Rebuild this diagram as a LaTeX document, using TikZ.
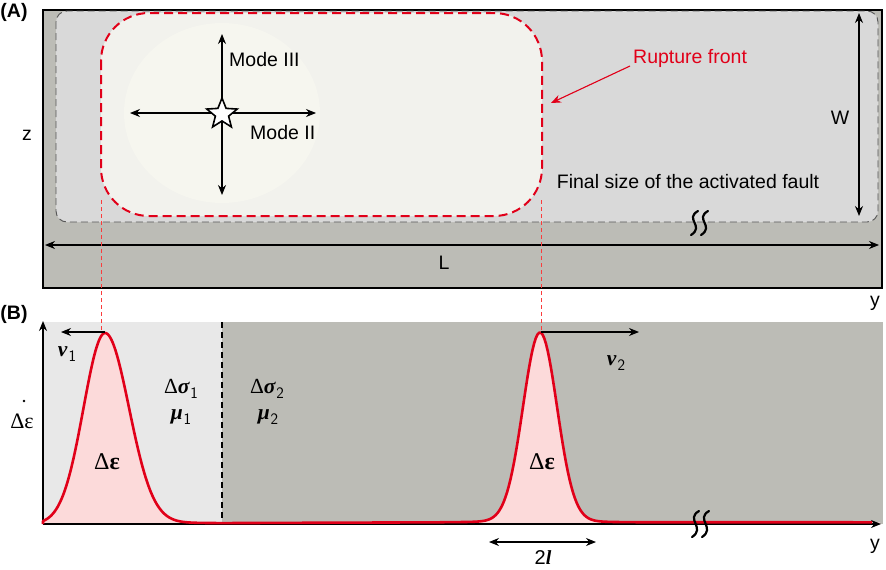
\documentclass[tikz,border=0pt]{standalone}
\usepackage{fontspec}
\usepackage{amsmath}
\setmainfont{Liberation Sans}
\newfontfamily\serifg{Liberation Serif}
\usetikzlibrary{arrows.meta,shapes.geometric}
\definecolor{darkg}{RGB}{188,188,182}
\definecolor{lightg}{RGB}{217,217,217}
\definecolor{paleg}{RGB}{242,242,237}
\definecolor{glowc}{RGB}{246,246,239}
\definecolor{lgb}{RGB}{232,232,232}
\definecolor{pinkf}{RGB}{252,218,218}
\definecolor{redl}{RGB}{225,0,25}
\definecolor{guider}{RGB}{250,60,60}
\definecolor{dashg}{RGB}{85,85,85}
\newcommand{\subsf}[1]{\kern1pt\raisebox{-4.5pt}{\fontsize{16}{18}\selectfont\sffamily\mdseries\upshape #1}}
\begin{document}
\begin{tikzpicture}[x=1pt,y=-1pt,
  font=\fontsize{19.5}{22}\selectfont,
  arr/.style={-{Stealth[length=10pt,width=8pt]}, line width=1.1pt},
  darr/.style={{Stealth[length=10pt,width=8pt]}-{Stealth[length=10pt,width=8pt]}, line width=1.1pt},
  lbl/.style={inner sep=0pt},
  gk/.style={inner sep=0pt, font=\fontsize{21.5}{24}\selectfont\serifg},
  redcurve/.style={draw=redl, line width=2.6pt, line join=round},
  squig/.style={line width=2.2pt, line cap=round},
  guide/.style={draw=guider, line width=1pt, dash pattern=on 4pt off 3pt}]
\useasboundingbox (0,0) rectangle (886,570);
% ---------------- panel A ----------------
\draw[fill=darkg, line width=1.5pt] (43,10) rectangle (882,288);
\draw[fill=lightg, draw=dashg, line width=0.9pt, dash pattern=on 7pt off 4pt, rounded corners=11pt] (56,11) rectangle (878,222);
\fill[paleg, rounded corners=48pt] (101,13) rectangle (542,216);
\fill[glowc] (222,113) ellipse [x radius=98, y radius=90];
\draw[redl, line width=2pt, dash pattern=on 9pt off 5pt, rounded corners=48pt] (101,13) rectangle (542,216);
% mode arrows and star
\coordinate (up) at (222,34);
\coordinate (dn) at (222,195);
\coordinate (lf) at (130,113);
\coordinate (rt) at (316,113);
\draw[arr] (222,113) -- (up);
\draw[arr] (222,113) -- (dn);
\draw[arr] (222,113) -- (lf);
\draw[arr] (222,113) -- (rt);
\node[star, star points=5, star point ratio=2.3, minimum size=32pt, inner sep=0pt, draw, fill=white, line width=1.6pt] (hypo) at (222,114) {};
\node[lbl, anchor=west] (m3) at (229,60) {Mode III};
\node[lbl, anchor=west] (m2) at (250,133) {Mode II};
\node[lbl] (zl) at (27,135) {z};
\node[lbl] (pa) at (14,12) {\bfseries (A)};
% rupture front
\node[lbl, text=redl, anchor=west] (rf) at (633,58) {Rupture front};
\coordinate (rfs) at (630,66);
\coordinate (rfe) at (551,103);
\draw[-{Stealth[length=10pt,width=8pt]}, draw=redl, fill=redl, line width=1.1pt] (rfs) -- (rfe);
\node[lbl] (fs) at (688,182) {Final size of the activated fault};
% W
\coordinate (wt) at (859,13);
\coordinate (wb) at (859,216);
\draw[darr] (wt) -- (wb);
\node[lbl] (wl) at (840,118) {W};
% L
\coordinate (ll) at (45,245);
\coordinate (lr) at (879,245);
\draw[darr] (ll) -- (lr);
\node[lbl] (Ll) at (444,263) {L};
\draw[squig] (698,211) .. controls (684,219) and (705,226) .. (691,235);
\draw[squig] (708,211) .. controls (694,219) and (715,226) .. (701,235);
\node[lbl] (ya) at (875,303) {y};
% ---------------- panel B ----------------
\node[lbl] (pb) at (14,314) {\bfseries (B)};
\fill[lgb] (43,322) rectangle (222,524);
\fill[darkg] (222,322) rectangle (883,524);
\draw[line width=1.2pt, dash pattern=on 6pt off 4pt] (222,322) -- (222,524);
% guides
\draw[guide] (101,200) -- (101,333);
\draw[guide] (541,200) -- (541,334);
% curve fill
\fill[pinkf] (43,524)
  -- plot[domain=43:105, samples=60] (\x,{524-189*exp(-0.5*((\x-105)/21.5)^2)-2})
  -- plot[domain=105:222, samples=90] (\x,{524-189*exp(-0.5*((\x-105)/24)^2)-2*exp(-(\x-105)/150)})
  -- (440,522.3)
  -- plot[domain=440:640, samples=120] (\x,{522.3-188*exp(-0.5*((\x-540)/17)^2)-1.8*exp(-0.5*((\x-540)/40)^2)})
  -- (880,522.3) -- (880,524) -- cycle;
% axes
\coordinate (org) at (43,524);
\coordinate (ytop) at (43,321);
\coordinate (xend) at (881,524);
\draw[arr, line width=1.2pt] (org) -- (ytop);
\draw[arr, line width=1.2pt] (org) -- (xend);
% red curve
\draw[redcurve] (43,524)
  -- plot[domain=43:105, samples=60] (\x,{524-189*exp(-0.5*((\x-105)/21.5)^2)-2*((\x-43)/62)})
  -- plot[domain=105:222, samples=90] (\x,{524-189*exp(-0.5*((\x-105)/24)^2)-2*exp(-(\x-105)/150)})
  -- (440,522.3)
  -- plot[domain=440:640, samples=120] (\x,{522.3-188*exp(-0.5*((\x-540)/17)^2)-1.8*exp(-0.5*((\x-540)/40)^2)})
  -- (872,522.3);
\draw[squig] (699,511) .. controls (685,519) and (706,528) .. (692,537);
\draw[squig] (709,511) .. controls (695,519) and (716,528) .. (702,537);
% velocity arrows
\coordinate (p1) at (105,332);
\coordinate (v1e) at (61,332);
\coordinate (p2) at (541,332);
\coordinate (v2e) at (639,332);
\draw[arr] (p1) -- (v1e);
\draw[arr] (p2) -- (v2e);
\node[gk] (v1) at (67,354) {\bfseries\itshape v\subsf{1}};
\node[gk] (v2) at (616,363) {\bfseries\itshape v\subsf{2}};
% labels
\node[gk, font=\fontsize{22}{25}\selectfont\serifg] (de) at (22,421) {Δε};
\fill (24,401) circle (1.3);
\node[gk] (s1) at (181,389) {Δ{\bfseries\itshape σ}\subsf{1}};
\node[gk] (u1) at (181,417) {{\bfseries\itshape μ}\subsf{1}};
\node[gk] (s2) at (267,389) {Δ{\bfseries\itshape σ}\subsf{2}};
\node[gk] (u2) at (268,417) {{\bfseries\itshape μ}\subsf{2}};
\node[gk, font=\fontsize{24}{27}\selectfont\serifg] (e1) at (107,462) {Δ{\bfseries ε}};
\node[gk, font=\fontsize{24}{27}\selectfont\serifg] (e2) at (542,462) {Δ{\bfseries ε}};
% 2l
\coordinate (la) at (489,542);
\coordinate (lb) at (596,542);
\draw[darr] (la) -- (lb);
\node[lbl, font=\fontsize{20}{22}\selectfont] (tl) at (543,558) {2{\serifg\bfseries\itshape l}};
\node[lbl] (yb) at (875,546) {y};
\end{tikzpicture}
\end{document}
